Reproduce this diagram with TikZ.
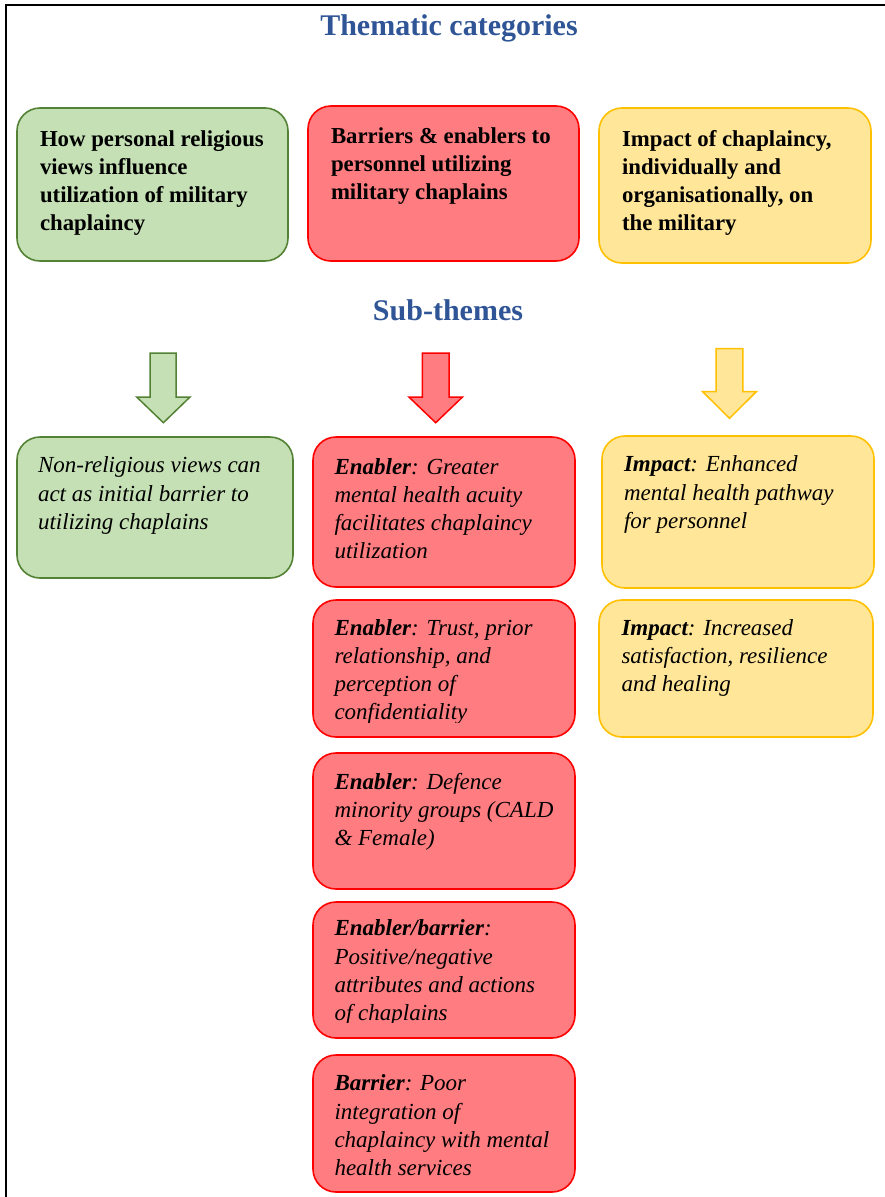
\documentclass[tikz,border=0pt]{standalone}
\usepackage{fontspec}
\setmainfont{Liberation Serif}
\definecolor{gfill}{HTML}{C5E0B4}
\definecolor{gline}{HTML}{548235}
\definecolor{rfill}{HTML}{FF7C80}
\definecolor{rline}{HTML}{FF0000}
\definecolor{yfill}{HTML}{FFE699}
\definecolor{yline}{HTML}{FFC000}
\definecolor{titleblue}{HTML}{2F5597}
\begin{document}
\begin{tikzpicture}[x=1pt,y=-1pt,
  box/.style={rounded corners=23pt, line width=1.6pt, inner sep=0pt, outer sep=0pt, anchor=north west},
  gbox/.style={box, fill=gfill, draw=gline},
  rbox/.style={box, fill=rfill, draw=rline},
  ybox/.style={box, fill=yfill, draw=yline},
  txt/.style={anchor=north west, align=left, inner sep=0pt, outer sep=0pt, font=\fontsize{23}{28.3}\selectfont},
  btxt/.style={txt, font=\fontsize{22.8}{28.3}\selectfont\bfseries},
  itxt/.style={txt, font=\fontsize{23}{28.3}\selectfont\itshape},
  heading/.style={anchor=base, inner sep=0pt, text=titleblue, font=\fontsize{30}{36}\selectfont\bfseries},
  garrow/.style={fill=gfill, draw=gline, line width=1.5pt},
  rarrow/.style={fill=rfill, draw=rline, line width=1.5pt},
  yarrow/.style={fill=yfill, draw=yline, line width=1.5pt}
]
\useasboundingbox (0,0) rectangle (885,1197);
\fill[white] (0,0) rectangle (885,1197);
% frame
\draw[line width=1.8pt] (885,5) -- (6,5) -- (6,1197);

% headings
\node[heading] (title) at (449,35) {Thematic categories};
\node[heading] (sub) at (448,320) {Sub-themes};

% top row boxes
\node[gbox, minimum width=271pt, minimum height=153pt] (c1) at (17,108) {};
\node[rbox, minimum width=271pt, minimum height=155pt] (c2) at (308,106) {};
\node[ybox, minimum width=272pt, minimum height=155pt] (c3) at (599,108) {};

\node[btxt] (c1t) at (40,123) {\rule{0pt}{23pt}How personal religious\\views influence\\utilization of military\\chaplaincy};
\node[btxt] (c2t) at (331,120) {\rule{0pt}{23pt}Barriers \& enablers to\\personnel utilizing\\military chaplains};
\node[btxt] (c3t) at (622,123) {\rule{0pt}{23pt}Impact of chaplaincy,\\individually and\\organisationally, on\\the military};

% block arrows
\draw[garrow] (150,353) -- (176,353) -- (176,397) -- (190,397) -- (163.4,422.7) -- (136.7,397) -- (150,397) -- cycle;
\draw[rarrow] (422.3,353) -- (449.1,353) -- (449.1,397) -- (462.5,397) -- (435.7,422.7) -- (408.9,397) -- (422.3,397) -- cycle;
\draw[yarrow] (716,348.7) -- (742.9,348.7) -- (742.9,391.7) -- (756.3,391.7) -- (729.5,418.3) -- (702.7,391.7) -- (716,391.7) -- cycle;

% sub-theme boxes
\node[gbox, minimum width=276pt, minimum height=141pt] (s1) at (17,437) {};
\node[rbox, minimum width=262pt, minimum height=150pt] (r1) at (313,437) {};
\node[rbox, minimum width=262pt, minimum height=137pt] (r2) at (313,600) {};
\node[rbox, minimum width=262pt, minimum height=136pt] (r3) at (313,753) {};
\node[rbox, minimum width=262pt, minimum height=136pt] (r4) at (313,902) {};
\node[rbox, minimum width=262pt, minimum height=137pt] (r5) at (313,1055) {};
\node[ybox, minimum width=272pt, minimum height=152pt] (y1) at (602,436) {};
\node[ybox, minimum width=274pt, minimum height=137pt] (y2) at (599,600) {};

\node[itxt] (s1t) at (38,449.7) {\rule{0pt}{23pt}Non-religious views can\\act as initial barrier to\\utilizing chaplains};
\node[itxt] (r1t) at (334.5,451) {\rule{0pt}{23pt}\textbf{Enabler}: Greater\\mental health acuity\\facilitates chaplaincy\\utilization};
\begin{scope}
\clip (313,600) rectangle (575,722.7);
\node[itxt] (r2t) at (334.5,612) {\rule{0pt}{23pt}\textbf{Enabler}: Trust, prior\\relationship, and\\perception of\\confidentiality};
\end{scope}
\node[itxt] (r3t) at (334.5,766) {\rule{0pt}{23pt}\textbf{Enabler}: Defence\\minority groups (CALD\\\& Female)};
\begin{scope}
\clip (313,902) rectangle (575,1022.7);
\node[itxt] (r4t) at (334.5,912.7) {\rule{0pt}{23pt}\textbf{Enabler/barrier}:\\Positive/negative\\attributes and actions\\of chaplains};
\end{scope}
\node[itxt] (r5t) at (334.5,1067.7) {\rule{0pt}{23pt}\textbf{Barrier}: Poor\\integration of\\chaplaincy with mental\\health services};
\node[itxt] (y1t) at (624,448.7) {\rule{0pt}{23pt}\textbf{Impact}: Enhanced\\mental health pathway\\for personnel};
\node[itxt] (y2t) at (621.5,612) {\rule{0pt}{23pt}\textbf{Impact}: Increased\\satisfaction, resilience\\and healing};
\end{tikzpicture}
\end{document}
